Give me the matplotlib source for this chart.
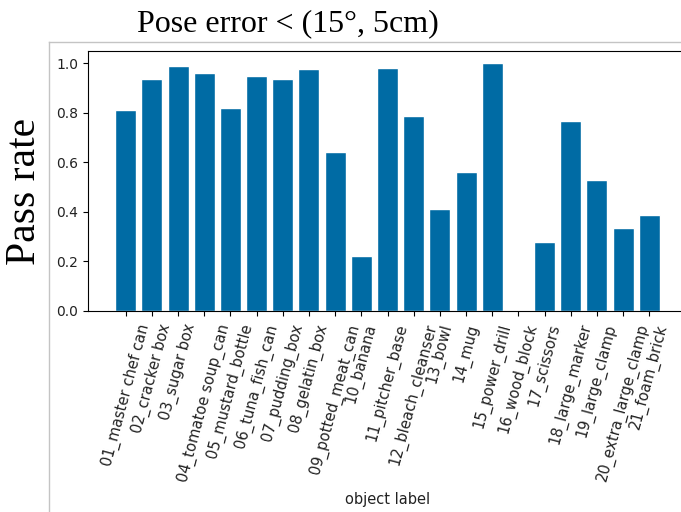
"""
Pass rate per object, pose error < (15 deg, 5 cm)
"""
import matplotlib
matplotlib.use('Agg')
import matplotlib.pyplot as plt
from matplotlib.lines import Line2D
import numpy as np

# data
objects = ['01_master chef can', '02_cracker box', '03_sugar box',
           '04_tomatoe soup_can', '05_mustard_bottle', '06_tuna_fish_can',
           '07_pudding_box', '08_gelatin_box', '09_potted_meat_can',
           '10_banana', '11_pitcher_base', '12_bleach_cleanser', '13_bowl',
           '14_mug', '15_power_drill', '16_wood_block', '17_scissors',
           '18_large_marker', '19_large_clamp', '20_extra_large_clamp',
           '21_foam_brick']
pass_rate = [0.811, 0.937, 0.990, 0.960, 0.817, 0.946, 0.937, 0.976, 0.643,
             0.223, 0.980, 0.786, 0.413, 0.561, 1.0, 0.0, 0.280, 0.768,
             0.530, 0.335, 0.389]

W, H = 681, 512
fig = plt.figure(figsize=(W / 100, H / 100), dpi=100)

# axes runs a little past the right edge (the reference is cropped there)
left, right, top, bottom = 88, 687, 50.7, 311
ax = fig.add_axes([left / W, 1 - bottom / H, (right - left) / W,
                   (bottom - top) / H])

x = np.arange(len(objects))
ax.bar(x, pass_rate, width=0.8, color='#006BA4', edgecolor='white',
       linewidth=1)
ax.set_xlim(-1.44, len(objects) - 1 + 1.44)
ax.set_ylim(0, 1.05)
ax.set_xticks(x)
ax.set_xticklabels(objects, rotation=75, fontsize=10.6, color='#222222')
ax.tick_params(axis='y', labelsize=10, labelcolor='#222222')
ax.tick_params(axis='x', pad=4.5)
ax.set_xlabel('object label', fontsize=10.5, labelpad=6, color='#222222')

# grey frame of the pasted image
fig.add_artist(Line2D([49 / W, 49 / W], [0, 1 - 42 / H], color='#c4c4c4',
                      lw=1, transform=fig.transFigure))
fig.add_artist(Line2D([49 / W, 1], [1 - 42 / H, 1 - 42 / H], color='#c4c4c4',
                      lw=1, transform=fig.transFigure))

serif = ['Liberation Serif', 'DejaVu Serif']
fig.text(288 / W, 1 - 31.7 / H, 'Pose error < (15°, 5cm)', family=serif,
         fontsize=23, ha='center', va='baseline')
fig.text(25 / W, 1 - 191.5 / H, 'Pass rate', family=serif, fontsize=30,
         rotation=90, ha='center', va='center')

fig.savefig('out.png', dpi=100)
